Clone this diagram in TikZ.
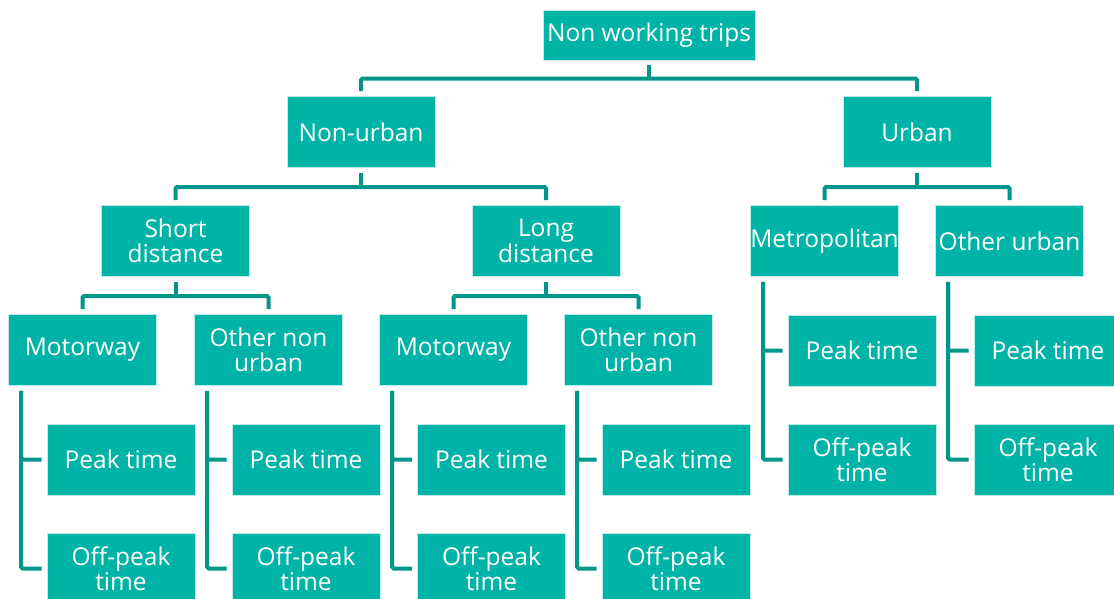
\documentclass[tikz,border=0pt]{standalone}
\usepackage{fontspec}
\setmainfont{Open Sans}
\definecolor{boxteal}{HTML}{00B3A7}
\definecolor{lineteal}{HTML}{00968A}
\begin{document}
\begin{tikzpicture}[x=1pt,y=-1pt,
    box/.style={fill=boxteal, draw=white!75!boxteal, line width=0.6pt, text=white,
      minimum width=148pt, minimum height=71pt, inner sep=0pt, align=center,
      font=\fontsize{24.5}{25.5}\selectfont},
    link/.style={draw=lineteal, line width=4pt, rounded corners=1.5pt}]
    \useasboundingbox (0,0) rectangle (1114,598);
    \clip (0,0) rectangle (1114,598);

    % top levels
    \node[box, minimum width=212pt, minimum height=50pt] (root) at (649,35) {Non working trips};
    \node[box] (nonurb) at (361,132) {Non-urban};
    \node[box] (urb) at (917,132) {Urban};

    \node[box] (short) at (175.5,241) {Short\\distance};
    \node[box] (long) at (546,241) {Long\\distance};
    \node[box] (metro) at (824.5,241) {Metropolitan};
    \node[box] (othurb) at (1009.5,241) {Other urban};

    \node[box] (mwa) at (82.5,350) {Motorway};
    \node[box] (ona) at (268.5,350) {Other non\\urban};
    \node[box] (mwb) at (453.5,350) {Motorway};
    \node[box] (onb) at (638.5,350) {Other non\\urban};

    % leaves
    \node[box] (pka) at (121,459.5) {Peak time};
    \node[box] (opa) at (121,568.5) {Off-peak\\time};
    \node[box] (pkb) at (306,459.5) {Peak time};
    \node[box] (opb) at (306,568.5) {Off-peak\\time};
    \node[box] (pkc) at (491.5,459.5) {Peak time};
    \node[box] (opc) at (491.5,568.5) {Off-peak\\time};
    \node[box] (pkd) at (676,459.5) {Peak time};
    \node[box] (opd) at (676,568.5) {Off-peak\\time};
    \node[box] (pke) at (862,350.5) {Peak time};
    \node[box] (ope) at (862,459.5) {Off-peak\\time};
    \node[box] (pkf) at (1048,350.5) {Peak time};
    \node[box] (opf) at (1048,459.5) {Off-peak\\time};

    % hubs of the tree connectors
    \coordinate (h0) at (649,78.5);
    \coordinate (h1) at (361,187);
    \coordinate (h2) at (917,187);
    \coordinate (h3) at (175.5,296);
    \coordinate (h4) at (546,296);

    \draw[link] ([yshift=-5pt]root.south) -- (h0);
    \draw[link] ([yshift=5pt]nonurb.north) |- (h0) -| ([yshift=5pt]urb.north);

    \draw[link] ([yshift=-5pt]nonurb.south) -- (h1);
    \draw[link] ([yshift=5pt]short.north) |- (h1) -| ([yshift=5pt]long.north);
    \draw[link] ([yshift=-5pt]urb.south) -- (h2);
    \draw[link] ([yshift=5pt]metro.north) |- (h2) -| ([yshift=5pt]othurb.north);

    \draw[link] ([yshift=-5pt]short.south) -- (h3);
    \draw[link] ([yshift=5pt]mwa.north) |- (h3) -| ([yshift=5pt]ona.north);
    \draw[link] ([yshift=-5pt]long.south) -- (h4);
    \draw[link] ([yshift=5pt]mwb.north) |- (h4) -| ([yshift=5pt]onb.north);

    % side connectors to the leaves
    \foreach \p/\a/\b in {mwa/pka/opa, ona/pkb/opb, mwb/pkc/opc, onb/pkd/opd, metro/pke/ope, othurb/pkf/opf} {
        \draw[link] ([xshift=13pt,yshift=-5pt]\p.south west) |- ([xshift=-5pt]\b.west);
        \draw[link] ([xshift=13pt,yshift=-5pt]\p.south west) |- ([xshift=-5pt]\a.west);
    }
\end{tikzpicture}
\end{document}
